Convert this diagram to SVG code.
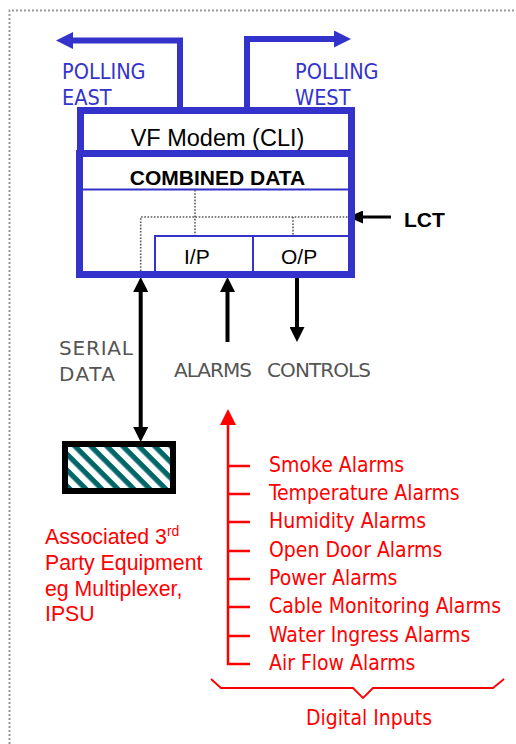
<svg xmlns="http://www.w3.org/2000/svg" width="516" height="744" viewBox="0 0 516 744">
<style>
.frame{fill:#fff;stroke:#3333CC;stroke-width:7}
.thin{fill:none;stroke:#3333CC;stroke-width:2}
.dot{fill:none;stroke:#555;stroke-width:1.6;stroke-dasharray:1.6 1.6}
.blk{fill:none;stroke:#000;stroke-width:4}
.red{fill:none;stroke:#FF0000;stroke-width:2.5}
.arial{font-family:"Liberation Sans",Arial,sans-serif}
.tah{font-family:"DejaVu Sans Condensed","DejaVu Sans",sans-serif;font-stretch:condensed}
.ver{font-family:"DejaVu Sans",Verdana,sans-serif;fill:#555}
.blue{fill:#3333CC}
.rt{fill:#FF0000}
</style>
<defs>
<marker id="ah" markerUnits="userSpaceOnUse" markerWidth="15" markerHeight="15" refX="7" refY="7.5" orient="auto-start-reverse" viewBox="0 0 15 15">
<path d="M0,0 L15,7.5 L0,15 z" fill="#000"/>
</marker>
<marker id="ahb" markerUnits="userSpaceOnUse" markerWidth="17" markerHeight="17" refX="8" refY="8.5" orient="auto" viewBox="0 0 17 17">
<path d="M0,0 L17,8.5 L0,17 z" fill="#3333CC"/>
</marker>
<marker id="ahr" markerUnits="userSpaceOnUse" markerWidth="16" markerHeight="16" refX="8" refY="8" orient="auto" viewBox="0 0 16 16">
<path d="M0,0 L16,8 L0,16 z" fill="#FF0000"/>
</marker>
<marker id="ahl" markerUnits="userSpaceOnUse" markerWidth="15" markerHeight="13" refX="7" refY="6.5" orient="auto" viewBox="0 0 15 13">
<path d="M0,0 L15,6.5 L0,13 z" fill="#000"/>
</marker>
<pattern id="hatch" patternUnits="userSpaceOnUse" width="11.3" height="11.3" patternTransform="rotate(45)">
<rect width="11.3" height="11.3" fill="#fff"/>
<rect y="0" width="11.3" height="5.2" fill="#006666"/>
</pattern>
</defs>

<path id="border" d="M9.5,744 V10.5 H516" fill="none" stroke="#999" stroke-width="2" stroke-dasharray="2 2"/>

<g id="connectors">
<path d="M180,107 V40.5 H65" fill="none" stroke="#3333CC" stroke-width="6" marker-end="url(#ahb)"/>
<path d="M247,107 V39 H342" fill="none" stroke="#3333CC" stroke-width="6" marker-end="url(#ahb)"/>
<line x1="391" y1="217" x2="356" y2="217" stroke="#000" stroke-width="3" marker-end="url(#ahl)"/>
<line x1="140.7" y1="285" x2="140.7" y2="434" class="blk" marker-start="url(#ah)" marker-end="url(#ah)"/>
<line x1="227.5" y1="342" x2="227.5" y2="285" class="blk" marker-end="url(#ah)"/>
<line x1="297" y1="278" x2="297" y2="334" class="blk" marker-end="url(#ah)"/>
<path d="M250,664 H228 V417" class="red" marker-end="url(#ahr)"/>
<path d="M228,466 H250 M228,494 H250 M228,522 H250 M228,551 H250 M228,579 H250 M228,607 H250 M228,636 H250" class="red" stroke-width="2"/>
<path d="M211,679 L221,688 H353 L363,698 L373,688 H493 L504,679" fill="none" stroke="#FF0000" stroke-width="1.8"/>
</g>

<g id="vf-modem">
<rect x="80.5" y="110.5" width="271" height="43" class="frame"/>
<text x="217.5" y="146" class="arial" font-size="23.5" text-anchor="middle">VF Modem (CLI)</text>
</g>

<g id="combined-data">
<rect x="79.5" y="153.5" width="272" height="121" class="frame"/>
<line x1="83" y1="189.5" x2="348" y2="189.5" class="thin"/>
<text x="217.5" y="185" class="arial" font-size="21" font-weight="bold" text-anchor="middle">COMBINED DATA</text>
<path d="M195,190 V236 M140.7,271 V217 H348 M293,217 V236" class="dot"/>
</g>

<g id="ip-op">
<path d="M155,271 V236 H348 M253,236 V271" class="thin"/>
<text x="184" y="264" class="arial" font-size="21">I/P</text>
<text x="281" y="264" class="arial" font-size="21">O/P</text>
</g>

<g id="lct">
<text x="404" y="227" class="arial" font-size="21" font-weight="bold">LCT</text>
</g>

<g id="polling-labels">
<text x="62" y="79" class="tah blue" font-size="21.5">POLLING</text>
<text x="62" y="105" class="tah blue" font-size="21.5">EAST</text>
<text x="295" y="79" class="tah blue" font-size="21.5">POLLING</text>
<text x="295" y="105" class="tah blue" font-size="21.5">WEST</text>
</g>

<g id="io-labels">
<text x="59" y="355" class="ver" font-size="20" textLength="74" lengthAdjust="spacing">SERIAL</text>
<text x="59" y="381" class="ver" font-size="20" textLength="56" lengthAdjust="spacing">DATA</text>
<text x="174" y="377" class="ver" font-size="20" textLength="78" lengthAdjust="spacing">ALARMS</text>
<text x="267" y="377" class="ver" font-size="20" textLength="104" lengthAdjust="spacing">CONTROLS</text>
</g>

<g id="third-party">
<rect x="65" y="444" width="108" height="47" fill="url(#hatch)" stroke="#000" stroke-width="6"/>
<text class="arial rt" font-size="21.3">
<tspan x="45" y="544">Associated 3<tspan font-size="14" dy="-8">rd</tspan></tspan>
<tspan x="45" y="570">Party Equipment</tspan>
<tspan x="45" y="596">eg Multiplexer,</tspan>
<tspan x="45" y="621">IPSU</tspan>
</text>
</g>

<g id="digital-inputs">
<text x="269" y="472" class="tah rt" font-size="21">Smoke Alarms</text>
<text x="269" y="500" class="tah rt" font-size="21">Temperature Alarms</text>
<text x="269" y="528" class="tah rt" font-size="21">Humidity Alarms</text>
<text x="269" y="557" class="tah rt" font-size="21">Open Door Alarms</text>
<text x="269" y="585" class="tah rt" font-size="21">Power Alarms</text>
<text x="269" y="613" class="tah rt" font-size="21">Cable Monitoring Alarms</text>
<text x="269" y="642" class="tah rt" font-size="21">Water Ingress Alarms</text>
<text x="269" y="670" class="tah rt" font-size="21">Air Flow Alarms</text>
<text x="306" y="725" class="tah rt" font-size="21">Digital Inputs</text>
</g>
</svg>
